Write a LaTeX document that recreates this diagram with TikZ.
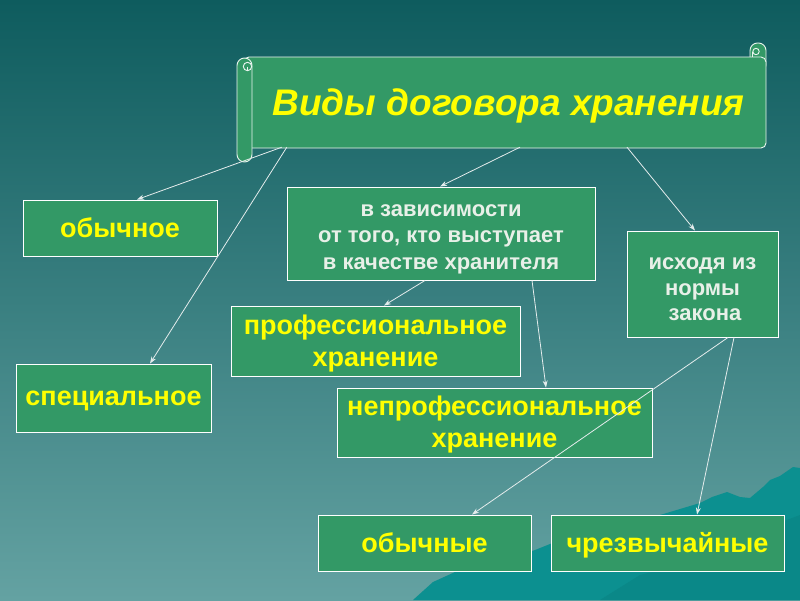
\documentclass[tikz,border=0pt]{standalone}
\usepackage{fontspec}
\setmainfont{Liberation Sans}
\usetikzlibrary{arrows.meta}
\definecolor{boxg}{HTML}{339966}
\definecolor{bgtop}{HTML}{0E5C5E}
\definecolor{bgbot}{HTML}{64A2A2}
\definecolor{mount}{HTML}{0C9090}
\definecolor{mountd}{HTML}{0A8888}
\definecolor{linec}{HTML}{E4ECEC}
\definecolor{ytext}{HTML}{FFFF00}
\definecolor{wtext}{HTML}{E8F0E8}
\tikzset{
  gbox/.style={draw=white, line width=0.9pt, fill=boxg, inner sep=0pt, align=center},
  ybox/.style={gbox, text=ytext, font=\bfseries\fontsize{27}{32}\selectfont},
  yone/.style={ybox, text height=18pt, text depth=0pt},
  wbox/.style={gbox, text=wtext, font=\bfseries\fontsize{22}{26.5}\selectfont},
  conn/.style={draw=linec, line width=0.8pt, -{Stealth[length=7pt,width=5pt]}},
  scroll/.style={draw=white!90!boxg, line width=0.9pt, fill=boxg}
}
\begin{document}
\begin{tikzpicture}[x=1pt,y=-1pt]
\shade[top color=bgtop, bottom color=bgbot] (0,0) rectangle (800,600);
\useasboundingbox (0,0) rectangle (800,600);
% mountain
\fill[mount] (413,600) -- (433,582) -- (455,572) -- (490,566) -- (535,550) -- (560,540) -- (600,530) -- (650,518) -- (700,503) -- (712,497) -- (727,492) -- (740,497) -- (750,498) -- (763,487) -- (770,480) -- (780,476) -- (793,467) -- (800,468) -- (800,600) -- cycle;
\fill[mountd] (600,600) -- (640,575) -- (700,560) -- (760,530) -- (800,515) -- (800,600) -- cycle;
% scroll banner
\draw[scroll, rounded corners=7.5pt] (750,43) rectangle (766,72);
\draw[scroll] (756,51.5) circle (3.2);
\draw[scroll, fill=none] (752.8,51.5) -- (752.8,57);
\draw[scroll, rounded corners=5pt] (244,57) -- (766,57) -- (766,148) -- (244,148) -- cycle;
\draw[scroll, rounded corners=7.5pt] (237,58) rectangle (252,162);
\draw[scroll] (247.5,66.5) circle (4.2);
\draw[scroll, fill=none] (247.5,66.5) -- (247.5,70.7);
\node[inner sep=0pt, minimum width=513pt, minimum height=90pt, text=ytext,
      text height=26pt, text depth=0pt,
      font=\bfseries\itshape\fontsize{37}{40}\selectfont] (title) at (508.5,102) {Виды договора хранения};
% boxes
\node[yone, minimum width=194pt, minimum height=56pt] (obych) at (120,228) {обычное};
\node[yone, text height=15pt, minimum width=195pt, minimum height=68pt] (spec) at (113.5,398) {специальное};
\node[wbox, minimum width=308pt, minimum height=93pt] (zav) at (441,233.5) {\rule{0pt}{23pt}в зависимости\\от того, кто выступает\\в качестве хранителя};
\node[wbox, font=\bfseries\fontsize{22}{25.5}\selectfont, minimum width=151pt, minimum height=106pt] (ishod) at (702.5,284) {\rule{0pt}{23pt}исходя из\\нормы\\\hspace*{5pt}закона};
\node[ybox, minimum width=289pt, minimum height=70pt] (prof) at (375.5,341) {\rule{0pt}{24pt}профессиональное\\хранение};
\node[ybox, minimum width=315pt, minimum height=69pt] (neprof) at (494.5,422.5) {\rule{0pt}{24pt}непрофессиональное\\хранение};
\node[yone, minimum width=213pt, minimum height=56pt] (obychn) at (424.5,543) {обычные};
\node[yone, minimum width=233pt, minimum height=56pt] (chrez) at (667.5,543) {чрезвычайные};
% connectors
\draw[conn] ([xshift=30pt]title.south west) -- ([xshift=17pt]obych.north);
\draw[conn] ([xshift=35pt]title.south west) -- ([xshift=36.5pt]spec.north);
\draw[conn] ([xshift=11.5pt]title.south) -- ([xshift=-1pt]zav.north);
\draw[conn] ([xshift=118.5pt]title.south) -- ([xshift=-7.5pt]ishod.north);
\draw[conn] ([xshift=-16pt]zav.south) -- ([xshift=8.5pt]prof.north);
\draw[conn] ([xshift=91pt]zav.south) -- ([xshift=51.5pt]neprof.north);
\draw[conn] ([xshift=25.5pt]ishod.south) -- ([xshift=47.5pt]obychn.north);
\draw[conn] ([xshift=31.5pt]ishod.south) -- ([xshift=29.5pt]chrez.north);
\end{tikzpicture}
\end{document}
